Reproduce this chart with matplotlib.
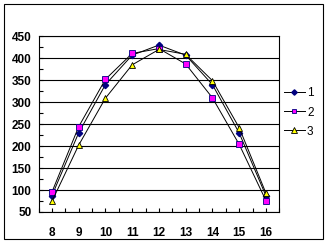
import matplotlib
matplotlib.use("Agg")
import matplotlib.pyplot as plt
from matplotlib.patches import Rectangle
import numpy as np

categories = ["8", "9", "10", "11", "12", "13", "14", "15", "16"]
series_names = ["1", "2", "3"]
s1 = [87, 230, 340, 407, 430, 407, 340, 230, 87]
s2 = [95, 244, 352, 411, 422, 387, 310, 204, 76]
s3 = [74, 202, 309, 385, 420, 409, 349, 242, 93]
y_ticks = [50, 100, 150, 200, 250, 300, 350, 400, 450]

fig = plt.figure(figsize=(3.27, 2.44), dpi=100)
fig.patches.append(Rectangle((4/327, 1-239/244), (322.5-4)/327, (239-4)/244,
                             transform=fig.transFigure, fill=False,
                             edgecolor="black", linewidth=0.8))
ax = fig.add_axes([38.5/327, 1-212/244, (279.3-38.5)/327, (212-36.3)/244])

x = np.arange(len(categories))
styles = [
    dict(marker="D", markersize=3.2, markerfacecolor="#000080", markeredgecolor="#000080"),
    dict(marker="s", markersize=3.8, markerfacecolor="#FF00FF", markeredgecolor="#000080", markeredgewidth=0.6),
    dict(marker="^", markersize=4.3, markerfacecolor="#FFFF00", markeredgecolor="black", markeredgewidth=0.6),
]
for vals, name, st in zip([s1, s2, s3], series_names, styles):
    ax.plot(x, vals, color="black", linewidth=0.7, label=name, **st, zorder=3)

ax.set_xlim(-0.5, len(categories) - 0.5)
ax.set_ylim(50, 450)
ax.set_yticks(y_ticks)
ax.set_yticks(np.arange(50, 451, 25), minor=True)
ax.set_xticks(x)
ax.set_xticks(np.arange(-0.5, len(categories), 0.5), minor=True)
ax.set_xticklabels(categories)
for lbl in ax.get_xticklabels() + ax.get_yticklabels():
    lbl.set_fontweight("bold")
    lbl.set_fontsize(8.5)
    lbl.set_family("Liberation Sans")
ax.tick_params(axis="both", which="both", direction="in", length=3, width=0.8, color="black")
ax.tick_params(axis="x", which="major", pad=11)
ax.tick_params(axis="y", which="major", pad=5)
ax.grid(axis="y", which="major", color="black", linewidth=0.8)
ax.set_axisbelow(True)
for sp in ax.spines.values():
    sp.set_linewidth(0.8)
    sp.set_color("black")

leg = ax.legend(loc="center left", bbox_to_anchor=(284/327, 1-112.5/244),
                bbox_transform=fig.transFigure, frameon=False,
                handlelength=1.75, handletextpad=0.2, labelspacing=0.6,
                markerscale=0.85,
                prop={"family": "Liberation Sans", "size": 8.5}, borderaxespad=0, borderpad=0)

fig.savefig("out.png", dpi=100)
